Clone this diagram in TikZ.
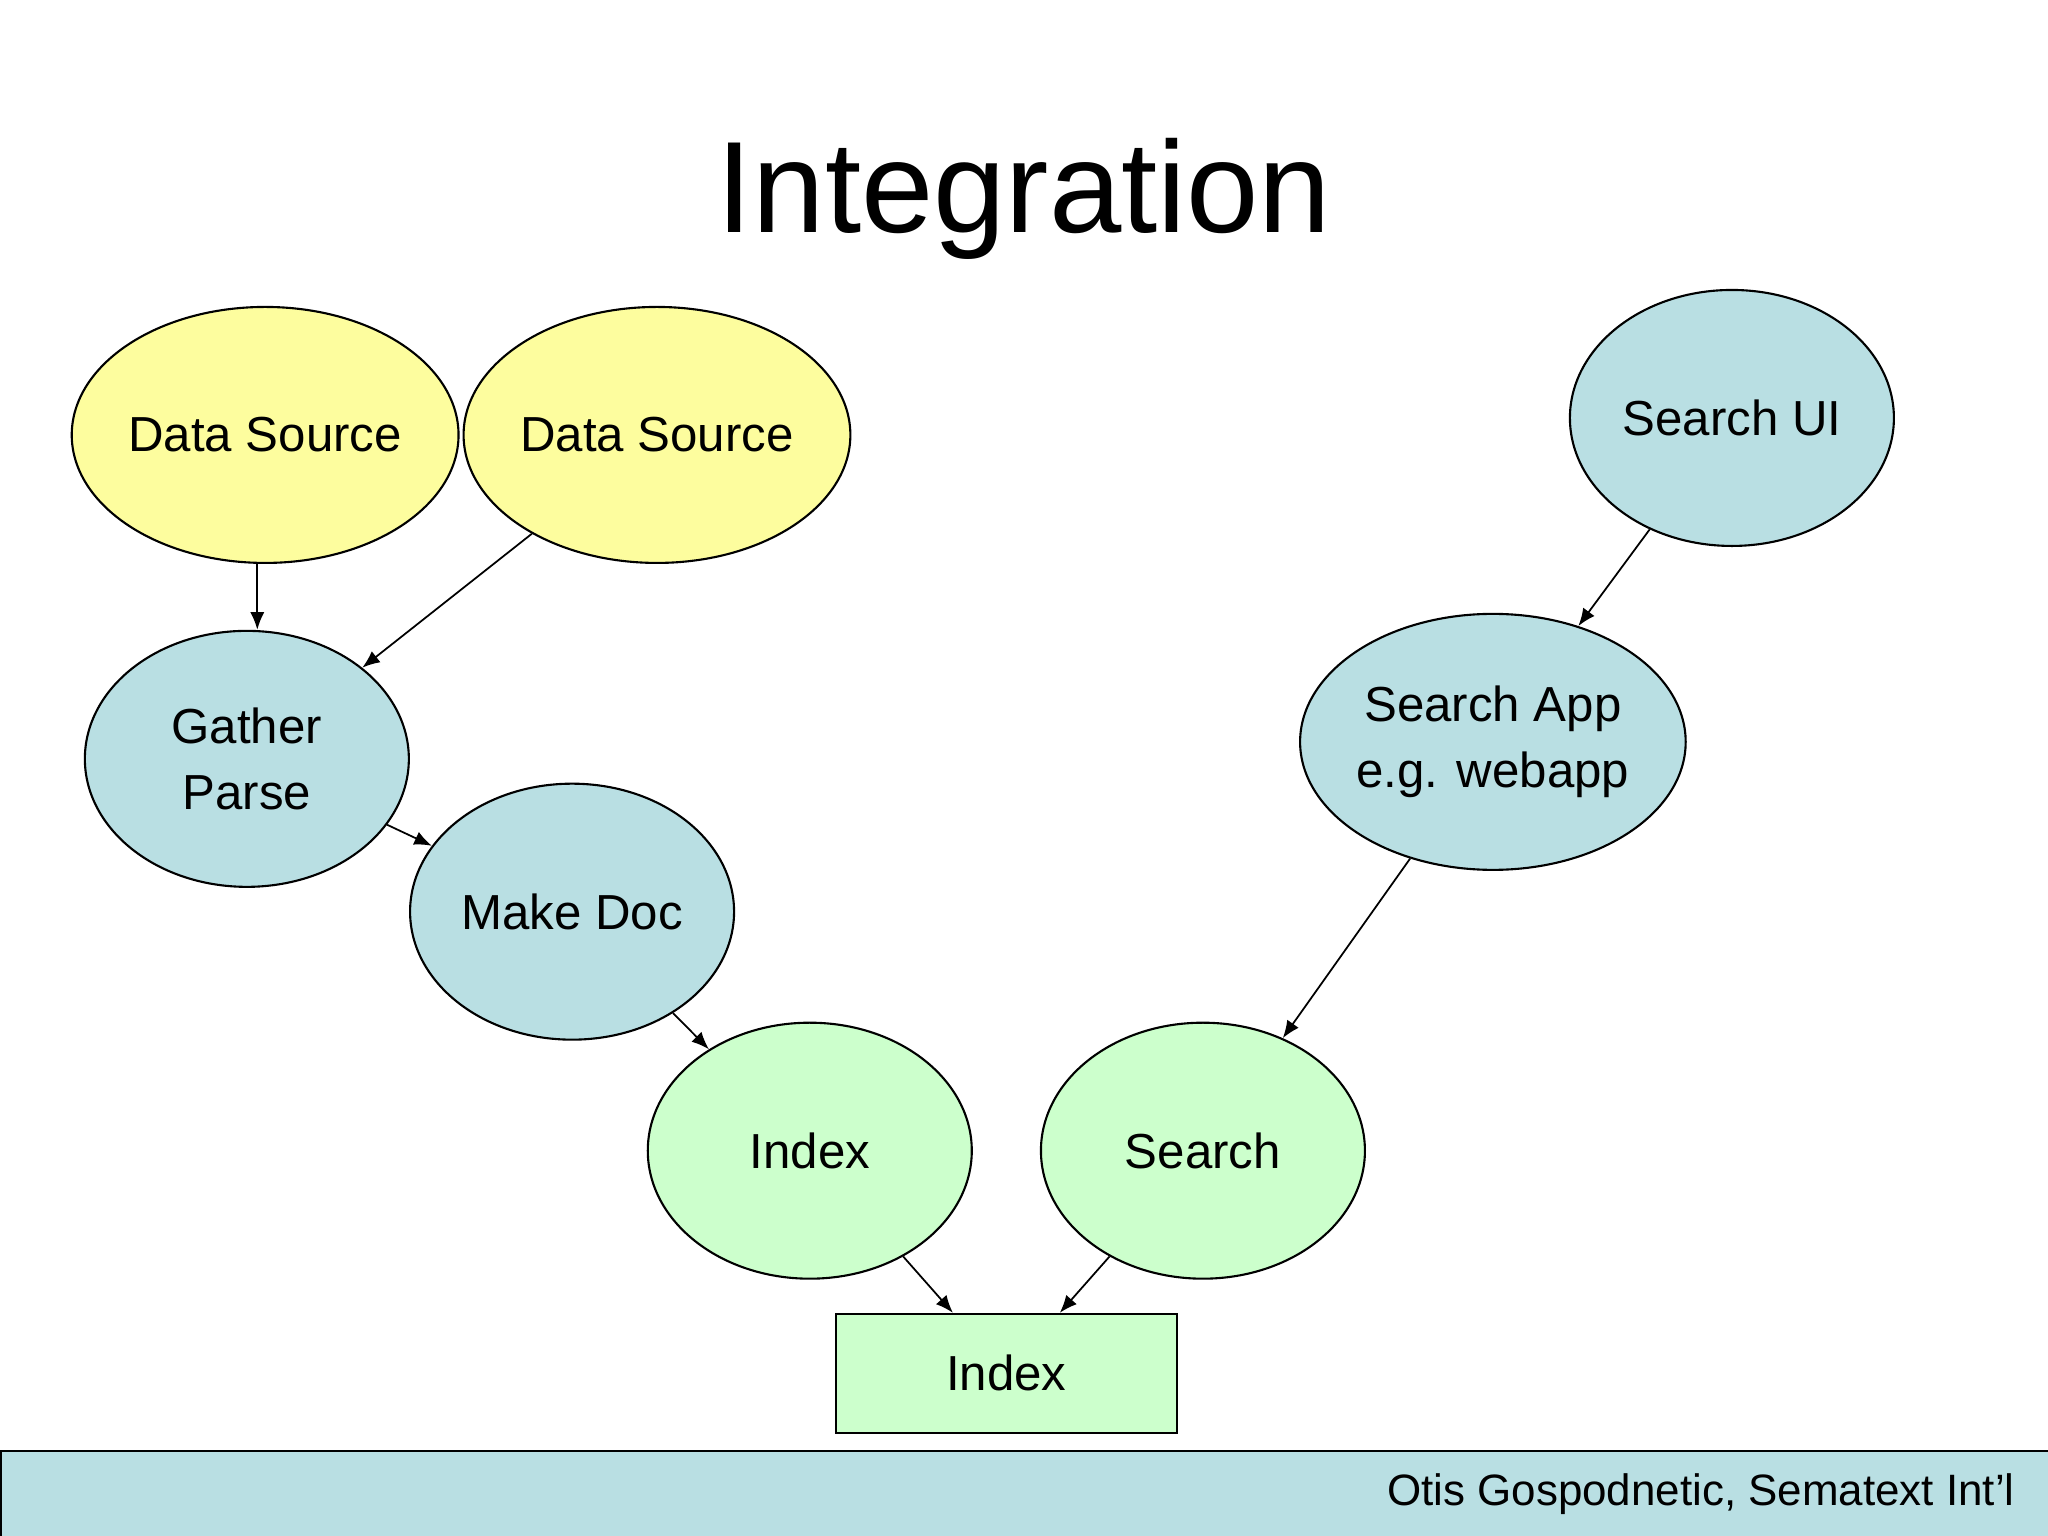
\documentclass[tikz,border=0pt]{standalone}
\usepackage{fontspec}
\setmainfont{Liberation Sans}
\usetikzlibrary{shapes.geometric,arrows.meta}
\definecolor{ylw}{HTML}{FDFD9E}
\definecolor{blu}{HTML}{B9DFE3}
\definecolor{grn}{HTML}{CCFFCC}
\begin{document}
\begin{tikzpicture}[x=0.013061cm,y=-0.013061cm,
  el/.style={ellipse,draw,line width=0.6pt,minimum width=248\pgflinewidth*0+3.24cm,minimum height=2.56cm,align=center,font=\fontsize{14}{19}\selectfont,inner sep=0pt},
  ar/.style={-{Latex[length=5pt,width=4pt]},line width=0.5pt}]
\useasboundingbox (0,0) rectangle (1568,1176);
\fill[white] (0,0) rectangle (1568,1176);
\node[font=\fontsize{37}{40}\selectfont] (title) at (784,152) {Integration};
\node[el,fill=ylw] (ds1) at (203,333) {Data Source};
\node[el,fill=ylw] (ds2) at (503,333) {Data Source};
\node[el,fill=blu] (ui) at (1326,320) {Search UI};
\node[el,fill=blu] (gp) at (189,581) {Gather\\Parse};
\node[el,fill=blu] (app) at (1143,568) {Search App\\e.g. webapp};
\node[el,fill=blu] (md) at (438,698) {Make Doc};
\node[el,fill=grn] (ix) at (620,881) {Index};
\node[el,fill=grn] (se) at (921,881) {Search};
\node[draw,fill=grn,line width=0.6pt,minimum width=3.41cm,minimum height=1.19cm,font=\fontsize{14}{19}\selectfont] (box) at (770.5,1051.5) {Index};
\draw[ar] (ds1.south -| 197,0) -- (gp.north -| 197,0);
\draw[ar] (ds2) -- (gp);
\draw[ar] (gp) -- (md);
\draw[ar] (md) -- (ix);
\draw[ar] (ix) -- (box);
\draw[ar] (se) -- (box);
\draw[ar] (app) -- (se);
\draw[ar] (ui) -- (app);
\node[draw,fill=blu,line width=0.6pt,minimum width=20.48cm,minimum height=0.86cm,anchor=north west,inner sep=0pt] (foot) at (0,1110) {};
\node[anchor=east,font=\fontsize{12.5}{15}\selectfont] (ft) at (1552,1144) {Otis Gospodnetic, Sematext Int’l};
\end{tikzpicture}
\end{document}
